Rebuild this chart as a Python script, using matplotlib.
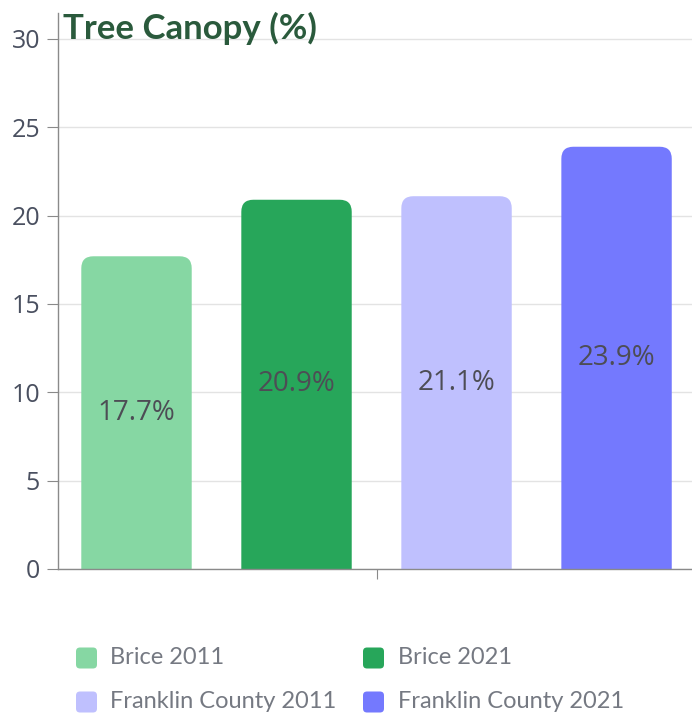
import matplotlib
matplotlib.use("Agg")
import matplotlib.pyplot as plt
from matplotlib.patches import FancyBboxPatch

categories = ["Brice 2011", "Brice 2021", "Franklin County 2011", "Franklin County 2021"]
values = [17.7, 20.9, 21.1, 23.9]
labels = ["17.7%", "20.9%", "21.1%", "23.9%"]
colors = ["#86d7a3", "#27a65a", "#bfc0fe", "#7479fe"]
yticks = [0, 5, 10, 15, 20, 25, 30]
title = "Tree Canopy (%)"

W, H = 692, 717
fig = plt.figure(figsize=(W / 100, H / 100), dpi=100)
ax_left, ax_right, ax_top, ax_bottom = 58, 698, 13, 569
ax = fig.add_axes([ax_left / W, 1 - ax_bottom / H, (ax_right - ax_left) / W, (ax_bottom - ax_top) / H])

xlim = (-0.4906, 3.509)
ylim = (0, 31.47)
ax.set_xlim(*xlim)
ax.set_ylim(*ylim)

px_per_x = (ax_right - ax_left) / (xlim[1] - xlim[0])
px_per_y = (ax_bottom - ax_top) / (ylim[1] - ylim[0])
bar_w = 0.69
radius_px = 12
for i, (v, c, lab) in enumerate(zip(values, colors, labels)):
    p = FancyBboxPatch((i - bar_w / 2, -3), bar_w, v + 3,
                       boxstyle=f"round,pad=0,rounding_size={radius_px / px_per_x}",
                       mutation_aspect=px_per_x / px_per_y,
                       facecolor=c, edgecolor="none", zorder=2)
    ax.add_patch(p)
    ax.text(i, v / 2, lab, ha="center", va="center", fontsize=20,
            color="#4d4d55", family="Open Sans", zorder=3)

ax.set_yticks(yticks)
ax.set_yticklabels([str(t) for t in yticks], fontsize=18, color="#4a5060", family="Open Sans")
ax.set_xticks([1.5])
ax.set_xticklabels([""])
ax.grid(axis="y", color="#e3e3e3", linewidth=1, zorder=0)
ax.set_axisbelow(True)
for s in ["top", "right"]:
    ax.spines[s].set_visible(False)
for s in ["left", "bottom"]:
    ax.spines[s].set_color("#8a8a8a")
    ax.spines[s].set_linewidth(1)
ax.tick_params(axis="y", length=8, color="#8a8a8a", pad=5)
ax.tick_params(axis="x", length=7, color="#8a8a8a")

fig.text(63 / W, 1 - 28 / H, title, ha="left", va="center", fontsize=25,
         fontweight="bold", color="#2a5a3c", family="Lato")

# legend
leg_pos = [(76, 658, 110), (363, 658, 398), (76, 702, 110), (363, 702, 398)]
sq = 21
for (x, y, tx), c, name in zip(leg_pos, colors, categories):
    fig.patches.append(FancyBboxPatch(((x) / W, 1 - (y + sq / 2) / H), sq / W, sq / H,
                                      boxstyle=f"round,pad=0,rounding_size={4 / W}",
                                      mutation_aspect=W / H,
                                      transform=fig.transFigure, facecolor=c,
                                      edgecolor="none"))
    fig.text(tx / W, 1 - y / H, name, ha="left", va="center",
             fontsize=17, color="#757982", family="Lato")

fig.savefig("out.png", dpi=100)
